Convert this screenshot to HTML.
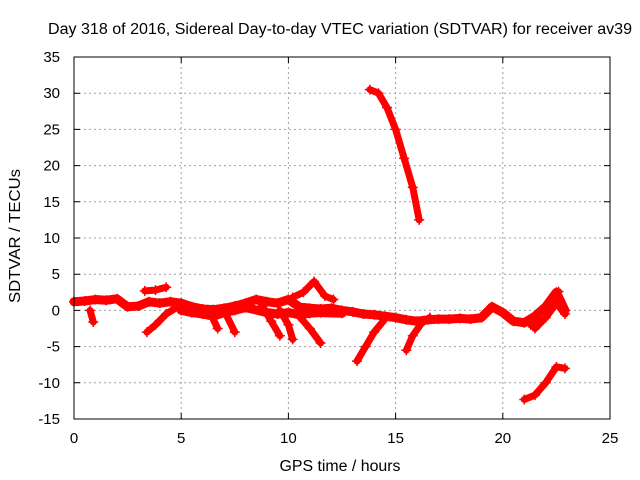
<!DOCTYPE html>
<html><head><meta charset="utf-8"><style>
body{margin:0;background:#fff}
svg{display:block;font-family:"Liberation Sans",sans-serif}
</style></head><body>
<svg id="chart" width="640" height="480" xmlns="http://www.w3.org/2000/svg">
<rect width="640" height="480" fill="#fff"/>
<text x="340" y="34" font-size="15.5" text-anchor="middle" textLength="584" lengthAdjust="spacingAndGlyphs">Day 318 of 2016, Sidereal Day-to-day VTEC variation (SDTVAR) for receiver av39</text>
<g id="grid"></g>
<g id="series"></g>
<rect x="74" y="57" width="536" height="362" fill="none" stroke="#000" stroke-width="1"/>
<g id="axes"></g>
<text x="340" y="471" font-size="15.5" text-anchor="middle" textLength="121" lengthAdjust="spacingAndGlyphs">GPS time / hours</text>
<text transform="translate(20,236) rotate(-90)" font-size="15.5" text-anchor="middle" textLength="134" lengthAdjust="spacingAndGlyphs">SDTVAR / TECUs</text>
</svg>
<script>
const xTicks=[0,5,10,15,20,25];
const yTicks=[35,30,25,20,15,10,5,0,-5,-10,-15];
const mainBand=[[0,1.2],[0.5,1.3],[1,1.5],[1.5,1.4],[2,1.6],[2.5,0.5],[3,0.6],[3.5,1.2],[4,1],[4.5,1.2],[5,1],[5.5,0.5],[6,0.2],[6.5,0.1],[7,0.3],[7.5,0.6],[8,1],[8.5,1.5],[9,1.2],[9.5,1],[10,1.5],[10.5,0.5],[11,0.3],[11.5,0.2],[12,0.3],[12.5,0],[13,-0.2],[13.5,-0.5],[14,-0.6],[14.5,-0.8],[15,-1],[15.5,-1.3],[16,-1.5],[16.5,-1.3],[17,-1.2],[17.5,-1.2],[18,-1.1],[18.5,-1.2],[19,-1],[19.5,0.5],[20,-0.3],[20.5,-1.5],[21,-1.7],[21.5,-0.8],[22,0.5],[22.5,2.5],[22.9,0]];
const lowerBand=[[5,0],[5.5,-0.3],[6,-0.5],[6.5,-0.8],[7,-0.3],[7.5,0],[8,0.4],[9,-0.3],[9.5,-0.5],[10,-0.3],[10.5,-0.6],[11,-0.4],[11.5,-0.3],[12.5,-0.4]];
const dropA=[[0.75,0],[0.9,-1.6]];
const upperA=[[3.3,2.7],[3.8,2.8],[4.3,3.2]];
const riseA=[[3.4,-3],[3.8,-2],[4.3,-0.5],[5,0.8]];
const vA=[[6.3,0],[6.7,-2.5]];
const vB=[[7,0],[7.5,-3]];
const dropB=[[8.7,1],[9.2,-1.5],[9.6,-3.5]];
const dropC=[[9.6,0],[10,-2],[10.2,-4]];
const peakA=[[10.2,1.8],[10.7,2.5],[11.2,4],[11.7,2],[12.1,1.5]];
const dropD=[[10.5,-0.8],[11,-2.5],[11.5,-4.5]];
const riseB=[[13.2,-7],[13.6,-5],[14,-3],[14.5,-1.2]];
const riseC=[[15.5,-5.5],[15.8,-3.5],[16.2,-1.8],[16.6,-1]];
const arc=[[13.8,30.5],[14.2,30],[14.6,28],[15,25],[15.4,21],[15.8,17],[16.1,12.5]];
const riseD=[[21.3,-2],[21.7,-0.5],[22.1,0.8],[22.6,2.6]];
const riseE=[[21.5,-2.5],[22,-1],[22.5,1],[22.9,-0.5]];
const lowTail=[[21,-12.3],[21.5,-11.7],[22,-10],[22.5,-7.8],[22.9,-8]];
const tracks=[mainBand,lowerBand,dropA,upperA,riseA,vA,vB,dropB,dropC,peakA,dropD,riseB,riseC,arc,riseD,riseE,lowTail];
const trackNames=['main-band','lower-band','drop-a','upper-a','rise-a','v-a','v-b','drop-b','drop-c','peak-a','drop-d','rise-b','rise-c','arc','rise-d','rise-e','low-tail'];

const X0=74,X1=610,Y0=57,Y1=419;
const xs=t=>X0+(t-0)/(25-0)*(X1-X0);
const ys=v=>Y1-(v+15)/(35+15)*(Y1-Y0);
const NS='http://www.w3.org/2000/svg';
function mk(tag,attrs,parent){const e=document.createElementNS(NS,tag);for(const k in attrs)e.setAttribute(k,attrs[k]);parent.appendChild(e);return e;}
const grid=document.getElementById('grid'),axes=document.getElementById('axes'),ser=document.getElementById('series');
xTicks.forEach(t=>{
  const x=xs(t);
  if(t>0&&t<25){const g=mk('line',{x1:x,x2:x,y1:Y0,y2:Y1,stroke:'#a0a0a0','stroke-dasharray':'2,3'},grid);
  
  }
  const tk=mk('path',{d:`M${x},${Y1}v-6M${x},${Y0}v6`,stroke:'#000'},axes);
  
  
  const lb=mk('text',{x:x,y:Y1+24,'font-size':15,'text-anchor':'middle'},axes);lb.textContent=t;
  
  
});
yTicks.forEach(v=>{
  const y=ys(v);
  if(v>-15&&v<35){const g=mk('line',{x1:X0,x2:X1,y1:y,y2:y,stroke:'#a0a0a0','stroke-dasharray':'2,3'},grid);
  
  }
  const tk=mk('path',{d:`M${X0},${y}h6M${X1},${y}h-6`,stroke:'#000'},axes);
  
  
  const lb=mk('text',{x:X0-14,y:y+5,'font-size':15,'text-anchor':'end'},axes);lb.textContent=v;
  
  
});
tracks.forEach((tr,i)=>{
  const pts=tr.map(p=>xs(p[0])+','+ys(p[1])).join(' ');
  const pl=mk('polyline',{points:pts,fill:'none',stroke:'#f00','stroke-width':i<2?9:7,'stroke-linejoin':'round','stroke-linecap':'round'},ser);
  
  
  tr.forEach(p=>{
    const x=xs(p[0]),y=ys(p[1]);
    const m=mk('path',{d:`M${x-5},${y}h10M${x},${y-5}v10`,stroke:'#f00','stroke-width':1.5},ser);
    
    
  });
});
</script>
</body></html>
